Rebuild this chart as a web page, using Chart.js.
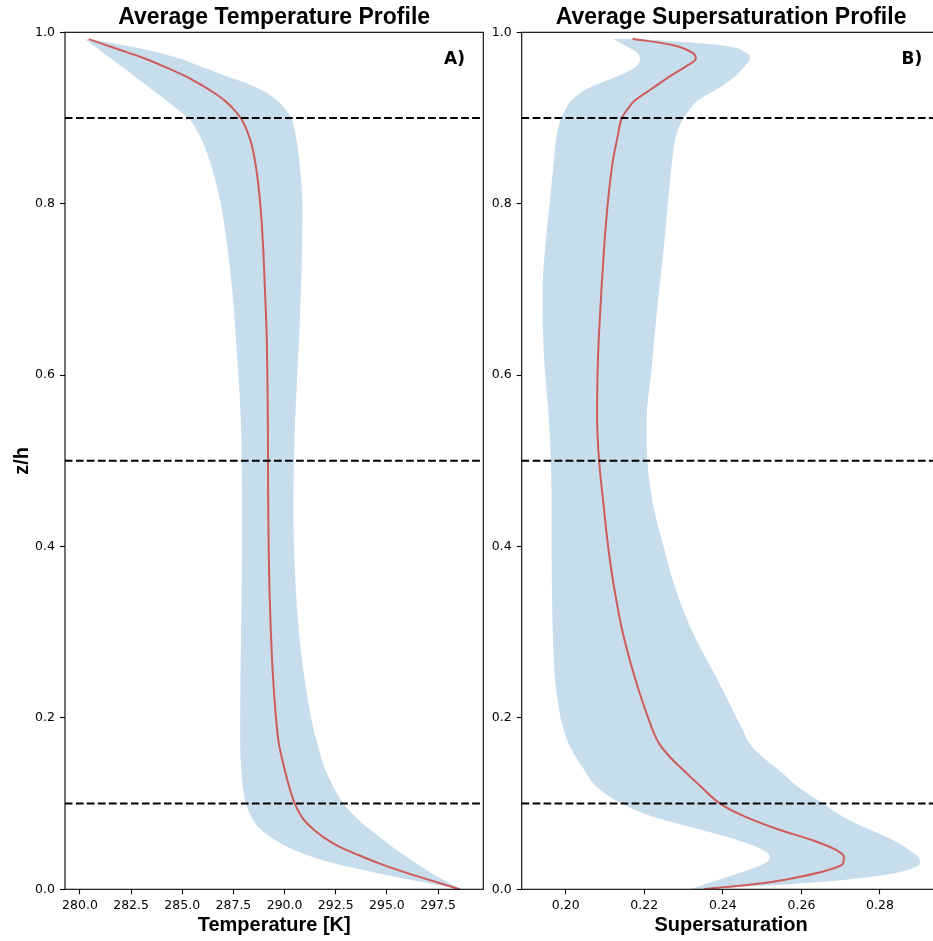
<!DOCTYPE html>
<html>
<head>
<title>Average profiles</title>
<style>
html, body {
	margin: 0;
	padding: 0;
	overflow: hidden;
	background: #fff;
}

body {
	width: 933px;
	height: 941px;
	position: relative;
}

.panel {
	position: absolute;
	top: 0;
	width: 490px;
	height: 941px;
}

#panel-a { left: 0; }
#panel-b { left: 470px; }
</style>
</head>
<script src="https://cdn.jsdelivr.net/npm/chart.js@4.4.0/dist/chart.umd.min.js"></script>
<body>
	<div class="panel" id="panel-a"><canvas id="chart-a"></canvas></div>
	<div class="panel" id="panel-b"><canvas id="chart-b"></canvas></div>
	<script>
		// temperature panel: height levels and T [K]
		const tempZ = [0, 0.01, 0.02, 0.03, 0.04, 0.05, 0.06, 0.07, 0.08, 0.09, 0.10, 0.12, 0.14, 0.17, 0.20, 0.25, 0.30, 0.35, 0.40, 0.45, 0.50, 0.55, 0.60, 0.65, 0.70, 0.75, 0.80, 0.84, 0.87, 0.89, 0.90, 0.91, 0.92, 0.93, 0.94, 0.95, 0.96, 0.97, 0.98, 0.992];
		const tempMean = [298.55, 297.2, 295.85, 294.65, 293.6, 292.65, 291.95, 291.4, 290.98, 290.7, 290.5, 290.22, 290.0, 289.72, 289.58, 289.43, 289.33, 289.26, 289.22, 289.2, 289.19, 289.18, 289.16, 289.12, 289.04, 288.95, 288.81, 288.62, 288.38, 288.08, 287.85, 287.52, 287.09, 286.51, 285.82, 285.05, 284.12, 283.1, 281.9, 280.43];
		const tempLow = [298.55, 296.4, 294.34, 292.45, 291.1, 290.1, 289.39, 288.82, 288.48, 288.27, 288.1, 287.96, 287.88, 287.83, 287.83, 287.85, 287.87, 287.9, 287.92, 287.92, 287.9, 287.86, 287.74, 287.6, 287.44, 287.2, 286.88, 286.47, 286.03, 285.6, 285.3, 284.78, 284.24, 283.69, 283.15, 282.6, 282.03, 281.48, 280.92, 280.24];
		const tempHigh = [298.6, 297.85, 297.1, 296.45, 295.83, 295.24, 294.7, 294.15, 293.67, 293.25, 292.87, 292.38, 291.98, 291.6, 291.3, 290.95, 290.7, 290.55, 290.46, 290.43, 290.46, 290.52, 290.62, 290.72, 290.8, 290.86, 290.87, 290.76, 290.62, 290.45, 290.33, 290.05, 289.65, 289.1, 288.2, 287.05, 285.9, 284.8, 283.2, 280.52];

		// supersaturation panel
		const satZ = [0, 0.0077, 0.015, 0.022, 0.03, 0.038, 0.046, 0.057, 0.07, 0.085, 0.10, 0.12, 0.13, 0.14, 0.155, 0.17, 0.185, 0.20, 0.225, 0.25, 0.30, 0.35, 0.40, 0.45, 0.50, 0.55, 0.60, 0.65, 0.70, 0.75, 0.80, 0.85, 0.88, 0.90, 0.91, 0.92, 0.935, 0.95, 0.96, 0.969, 0.976, 0.985, 0.9925];
		const satMean = [0.2352, 0.2510, 0.2600, 0.2664, 0.2706, 0.2708, 0.2688, 0.2630, 0.2540, 0.2455, 0.2393, 0.2344, 0.2320, 0.2297, 0.2264, 0.2238, 0.2222, 0.2210, 0.2191, 0.2174, 0.2145, 0.2124, 0.2108, 0.2096, 0.2085, 0.2080, 0.2081, 0.2085, 0.2091, 0.2098, 0.2107, 0.2120, 0.2133, 0.2143, 0.2157, 0.2175, 0.2222, 0.2270, 0.2305, 0.2331, 0.2323, 0.2274, 0.2170];
		const satLow = [0.2318, 0.2365, 0.2415, 0.2462, 0.2506, 0.2520, 0.2502, 0.2440, 0.2340, 0.2220, 0.2142, 0.2078, 0.2060, 0.2046, 0.2025, 0.2007, 0.1996, 0.1987, 0.1978, 0.1972, 0.1967, 0.1965, 0.1964, 0.1964, 0.1962, 0.1957, 0.1948, 0.1942, 0.1941, 0.1948, 0.1959, 0.1970, 0.1977, 0.1989, 0.2000, 0.2013, 0.2058, 0.2138, 0.2180, 0.2189, 0.2182, 0.2150, 0.2120];
		const satHigh = [0.2340, 0.2620, 0.2785, 0.2866, 0.2902, 0.2897, 0.2875, 0.2834, 0.2772, 0.2705, 0.2655, 0.2590, 0.2565, 0.2540, 0.2500, 0.2468, 0.2452, 0.2435, 0.2408, 0.2380, 0.2323, 0.2280, 0.2249, 0.2222, 0.2208, 0.2206, 0.2217, 0.2227, 0.2238, 0.2250, 0.2260, 0.2271, 0.2281, 0.2300, 0.2316, 0.2335, 0.2390, 0.2435, 0.2455, 0.2469, 0.2460, 0.2395, 0.2180];

		// dashed reference heights
		const refLevels = [0.1, 0.5, 0.9];

		const zTicks = [0.0, 0.2, 0.4, 0.6, 0.8, 1.0];
		const tempTicks = [280.0, 282.5, 285.0, 287.5, 290.0, 292.5, 295.0, 297.5];
		const satTicks = [0.20, 0.22, 0.24, 0.26, 0.28];
		const tempRange = [279.27, 299.71];
		const satRange = [0.1888, 0.2954];

		const BAND = 'rgba(31, 119, 180, 0.25)';
		const RED = '#cd5c5c';
		const tickFont = { family: 'DejaVu Sans', size: 12.5 };
		const labelFont = { family: 'Liberation Sans', weight: 'bold', size: 20 };

		const frame = {
			id: 'frame',
			afterDraw(chart, args, opts) {
				const { ctx, chartArea: a } = chart;
				ctx.save();
				ctx.strokeStyle = '#000';
				ctx.lineWidth = 1.1;
				ctx.strokeRect(a.left, a.top, a.right - a.left, a.bottom - a.top);
				ctx.fillStyle = '#000';
				ctx.font = 'bold 17px "DejaVu Sans"';
				ctx.textAlign = 'right';
				ctx.textBaseline = 'alphabetic';
				ctx.fillText(opts.tag, a.right - 18.3, a.top + 31.7);
				ctx.restore();
			}
		};

		function profileChart(id, o) {
			const pts = xs => o.z.map((z, i) => ({ x: xs[i], y: z }));
			const datasets = [
				{ data: pts(o.low), borderWidth: 0, borderColor: 'rgba(0,0,0,0)', fill: false, order: 3 },
				{ data: pts(o.high), borderWidth: 0, borderColor: 'rgba(0,0,0,0)', backgroundColor: BAND, fill: '-1', order: 2 },
				{ data: pts(o.mean), borderWidth: 2, borderColor: RED, fill: false, order: 1 }
			];
			refLevels.forEach(l => {
				datasets.push({
					data: [{ x: o.range[0], y: l }, { x: o.range[1], y: l }],
					borderColor: '#000', borderWidth: 2, borderDash: [7.7, 3.3],
					fill: false, order: 0
				});
			});

			return new Chart(document.getElementById(id), {
				type: 'line',
				data: { datasets },
				plugins: [frame],
				options: {
					indexAxis: 'y',
					responsive: true,
					maintainAspectRatio: false,
					animation: false,
					devicePixelRatio: 1,
					elements: {
						point: { radius: 0, hoverRadius: 0 },
						line: { cubicInterpolationMode: 'monotone', indexAxis: 'y' }
					},
					layout: { padding: { left: 0, right: o.padRight, top: 0, bottom: 0 } },
					plugins: {
						legend: { display: false },
						tooltip: { enabled: false },
						frame: { tag: o.tag },
						title: {
							display: true,
							text: o.title,
							fullSize: false,
							color: '#000',
							font: { family: 'Liberation Sans', weight: 'bold', size: 23 },
							padding: { top: 4, bottom: 0.7 }
						}
					},
					scales: {
						x: {
							type: 'linear',
							min: o.range[0],
							max: o.range[1],
							afterBuildTicks: s => { s.ticks = o.xTicks.map(v => ({ value: v })); },
							afterFit: s => { s.height = 51.7; },
							ticks: {
								callback: v => v.toFixed(o.digits),
								font: tickFont, color: '#000', padding: 4,
								autoSkip: false, maxRotation: 0
							},
							grid: { drawOnChartArea: false, tickLength: 5, tickColor: '#000', tickWidth: 1.1 },
							border: { display: false },
							title: {
								display: true, text: o.xTitle, color: '#000',
								font: labelFont, padding: { top: 0, bottom: 3.5 }
							}
						},
						y: {
							type: 'linear',
							min: 0,
							max: 1,
							afterBuildTicks: s => { s.ticks = zTicks.map(v => ({ value: v })); },
							afterFit: s => { s.width = o.yAxisW; },
							ticks: { callback: v => v.toFixed(1), font: tickFont, color: '#000', padding: 5 },
							grid: { drawOnChartArea: false, tickLength: 5, tickColor: '#000', tickWidth: 1.1 },
							border: { display: false },
							title: {
								display: !!o.yTitle, text: o.yTitle || '', color: '#000',
								font: labelFont, padding: { top: 10.5, bottom: 0 }
							}
						}
					}
				}
			});
		}

		profileChart('chart-a', {
			z: tempZ, mean: tempMean, low: tempLow, high: tempHigh,
			range: tempRange, xTicks: tempTicks, digits: 1,
			title: 'Average Temperature Profile', xTitle: 'Temperature [K]', yTitle: 'z/h',
			tag: 'A)', yAxisW: 65, padRight: 6.7
		});

		profileChart('chart-b', {
			z: satZ, mean: satMean, low: satLow, high: satHigh,
			range: satRange, xTicks: satTicks, digits: 2,
			title: 'Average Supersaturation Profile', xTitle: 'Supersaturation', yTitle: null,
			tag: 'B)', yAxisW: 51.7, padRight: 19.5
		});
	</script>
</body>
</html>
